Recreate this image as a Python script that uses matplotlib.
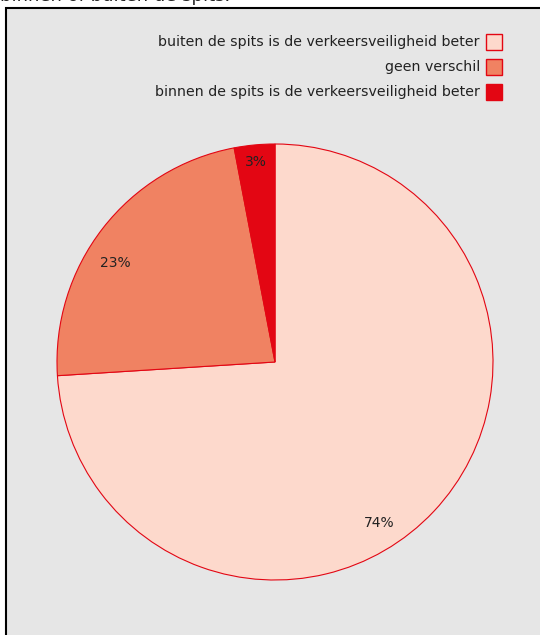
import numpy as np
import matplotlib.pyplot as plt
from matplotlib.patches import Rectangle

# answers, share in percent
labels = ["buiten de spits is de verkeersveiligheid beter",
          "geen verschil",
          "binnen de spits is de verkeersveiligheid beter"]
shares = [74, 23, 3]
colors = ["#fdd9cc", "#f08262", "#e30613"]
title = "binnen of buiten de spits."

W, H = 540, 635
fig = plt.figure(figsize=(W / 100, H / 100), dpi=100)
fig.patch.set_facecolor("white")

# grey panel with black border on left/top (runs off the right and bottom)
fig.patches.append(Rectangle((6 / W, -0.05), 1.2, (H - 8) / H + 0.05,
                             transform=fig.transFigure, facecolor="#e6e6e6",
                             edgecolor="black", linewidth=1.5, zorder=-5))

fig.text(0 / W, 1 - 1 / H, title, fontsize=13, color="#222222",
         ha="left", va="baseline")

ax = fig.add_axes([57 / W, 55 / H, 436 / W, 436 / H])
ax.set_zorder(2)
ax.set_axis_off()
wedges, texts, autotexts = ax.pie(
    shares, colors=colors, startangle=90, counterclock=False,
    autopct="%d%%", pctdistance=0.87,
    wedgeprops=dict(edgecolor="#e30613", linewidth=0.8),
    textprops=dict(fontsize=10, color="#222222"))
ax.set_xlim(-1, 1)
ax.set_ylim(-1, 1)

# labels are not quite on the slice middles in the original
shift = [-14, 6, 0]
radius = [0.88, 0.86, 0.92]
for t, w, s, r in zip(autotexts, wedges, shift, radius):
    ang = np.deg2rad((w.theta1 + w.theta2) / 2 + s)
    t.set_position((r * np.cos(ang), r * np.sin(ang)))

# legend: right-aligned text with a square box
for i, (lab, col) in enumerate(zip(labels, colors)):
    yc = 42 + 25 * i
    fig.text(480 / W, 1 - yc / H, lab, fontsize=10.2, color="#222222",
             ha="right", va="center")
    fig.patches.append(Rectangle((486 / W, 1 - (yc + 8) / H), 16 / W, 16 / H,
                                 transform=fig.transFigure, facecolor=col,
                                 edgecolor="#e30613", linewidth=1, zorder=3))

fig.savefig("out.png", dpi=100)
